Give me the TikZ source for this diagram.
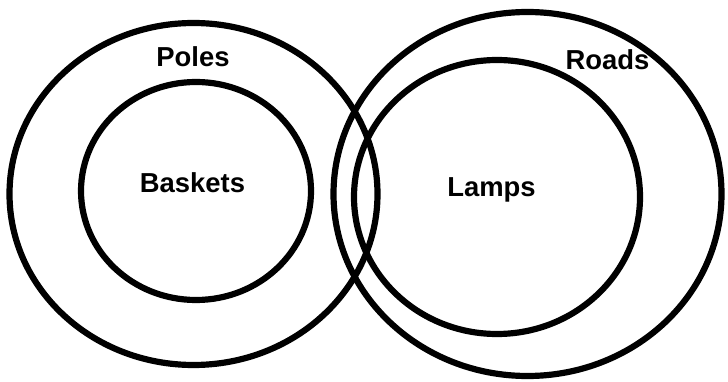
\documentclass[tikz,border=0pt]{standalone}
\usepackage{fontspec}
\setmainfont{Liberation Sans}
\usepackage{tikz}
\usetikzlibrary{positioning}

\begin{document}
\begin{tikzpicture}[x=0.025cm, y=0.025cm,
  ring/.style={draw=black, line width=4.4pt},
  setlabel/.style={font=\bfseries\fontsize{19.5}{19.5}\selectfont, inner sep=0pt, anchor=base}
]
  \useasboundingbox (0,0) rectangle (728,381);

  % Left pair: Poles with Baskets inside
  \draw[ring] (193.5, 187) ellipse (184 and 171);
  \draw[ring] (196, 190) ellipse (115 and 109);
  \node[setlabel] (poles) at (193, 314) {Poles};
  \node[setlabel] (baskets) at (192.5, 188) {Baskets};

  % Right pair: Roads with Lamps inside
  \draw[ring] (527.5, 187) ellipse (194 and 182);
  \draw[ring] (497, 184) ellipse (143 and 137);
  \node[setlabel] (roads) at (607.5, 311) {Roads};
  \node[setlabel] (lamps) at (491.5, 184) {Lamps};
\end{tikzpicture}
\end{document}
